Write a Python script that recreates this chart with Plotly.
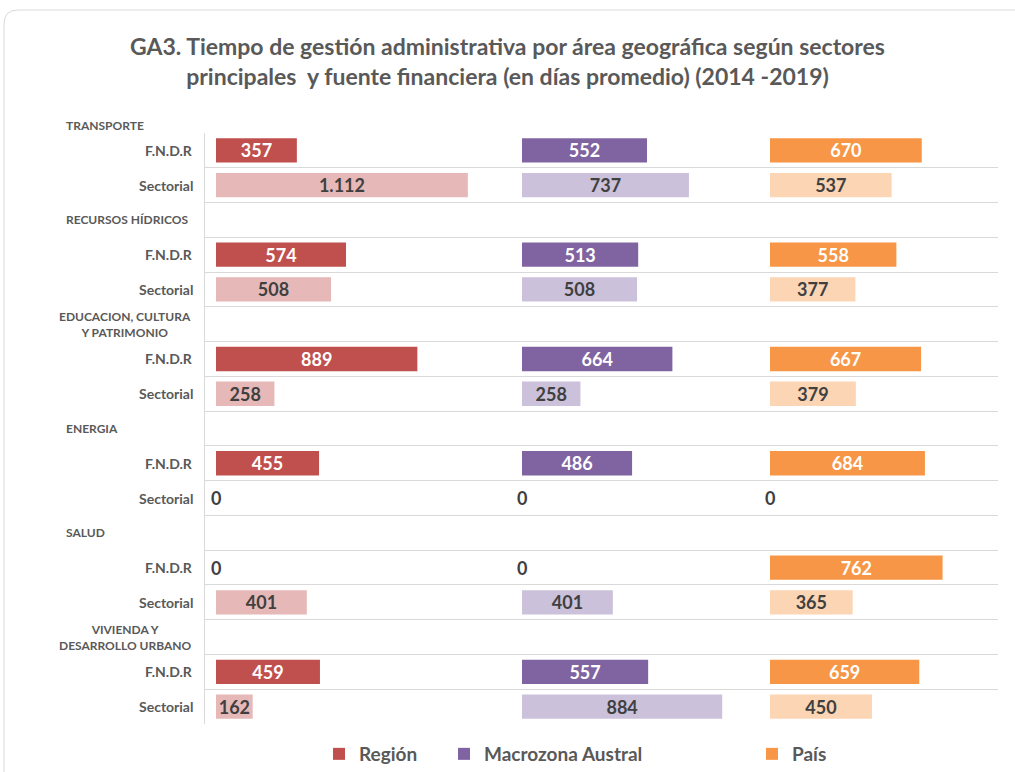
import plotly.graph_objects as go

# ---------------- data ----------------
sectors = ["TRANSPORTE", "RECURSOS HÍDRICOS", "EDUCACION, CULTURA<br>Y PATRIMONIO",
           "ENERGIA", "SALUD", "VIVIENDA Y<br>DESARROLLO URBANO"]
fuentes = ["F.N.D.R", "Sectorial"]
areas = ["Región", "Macrozona Austral", "País"]

region_fndr = [357, 574, 889, 455, 0, 459]
region_sect = [1112, 508, 258, 0, 401, 162]
macro_fndr = [552, 513, 664, 486, 0, 557]
macro_sect = [737, 508, 258, 0, 401, 884]
pais_fndr = [670, 558, 667, 684, 762, 659]
pais_sect = [537, 377, 379, 0, 365, 450]

dark_colors = ["#C0504D", "#8064A2", "#F79646"]
light_colors = ["#E6B9B8", "#CCC1DA", "#FCD5B5"]

# ---------------- layout geometry ----------------
W, H = 1015, 772
L, R, T, B = 205, 998, 133, 724
PW, PH = R - L, B - T
FONT = "Lato"
GRAY = "#595959"
DARKTXT = "#404040"

def pxx(px):
    return (px - L) / PW

def pxy(py):
    return (B - py) / PH

# rows: header of sector i at 3i-1, FNDR at 3i, Sectorial at 3i+1
fndr_rows = [3 * i for i in range(len(sectors))]
sect_rows = [3 * i + 1 for i in range(len(sectors))]
n_rows = 3 * len(sectors) - 1

# panel bar-start pixel positions and common scale (px per day)
scale = 0.2265
panel_starts = [216, 522, 770]
panel_edges = [L, 522, 770, R]
legend_marker_px = [335, 460, 768]

def fmt(v):
    return f"{v:,}".replace(",", ".")

fig = go.Figure()
annotations = []
series = [(region_fndr, region_sect), (macro_fndr, macro_sect), (pais_fndr, pais_sect)]
for k, (fv, sv) in enumerate(series):
    xa = "x" if k == 0 else f"x{k+1}"
    lg = "legend" if k == 0 else f"legend{k+1}"
    for vals, rows, col, txtcol, show in [
        (fv, fndr_rows, dark_colors[k], "white", True),
        (sv, sect_rows, light_colors[k], DARKTXT, False),
    ]:
        fig.add_trace(go.Bar(
            x=vals, y=rows, orientation="h",
            marker=dict(color=col, line=dict(width=0)), width=0.7,
            name=areas[k], showlegend=show, legend=lg,
            text=[fmt(v) if v else "" for v in vals],
            textposition="inside", insidetextanchor="middle", constraintext="none",
            textangle=0,
            textfont=dict(family=FONT, size=18, color=txtcol, weight="bold"),
            hoverinfo="skip", xaxis=xa, yaxis="y",
        ))
        # zero values: label drawn at the bar origin
        for v, r in zip(vals, rows):
            if v == 0:
                annotations.append(dict(
                    text=fmt(v), x=v, xref=xa, y=r, yref="y", xanchor="center",
                    yanchor="middle", showarrow=False,
                    font=dict(family=FONT, size=18, color=DARKTXT, weight="bold"),
                ))

layout_axes = {}
for k in range(3):
    key = "xaxis" if k == 0 else f"xaxis{k+1}"
    d0, d1 = pxx(panel_edges[k]), pxx(panel_edges[k + 1])
    x0 = -(panel_starts[k] - panel_edges[k]) / scale
    x1 = (panel_edges[k + 1] - panel_starts[k]) / scale
    ax = dict(domain=[d0, d1], range=[x0, x1], showticklabels=False, showgrid=False,
              zeroline=False, showline=False, fixedrange=True)
    if k > 0:
        ax["anchor"] = "y"
    layout_axes[key] = ax

legend_common = dict(orientation="h", xanchor="left", yanchor="middle",
                     font=dict(family=FONT, size=19, color=GRAY, weight="bold"),
                     itemclick=False, itemdoubleclick=False,
                     bgcolor="rgba(0,0,0,0)", borderwidth=0)
legends = {}
for k in range(3):
    key = "legend" if k == 0 else f"legend{k+1}"
    legends[key] = dict(legend_common, x=pxx(legend_marker_px[k] - 16), y=pxy(754))

fig.update_layout(**layout_axes)
fig.update_layout(**legends)
fig.update_layout(
    yaxis=dict(range=[n_rows - 0.5, -0.5], tickvals=[i + 0.5 for i in range(-1, n_rows)],
               showticklabels=False, showgrid=True, gridcolor="#D9D9D9", gridwidth=1,
               zeroline=False, showline=True, linecolor="#D9D9D9", linewidth=1,
               ticks="", anchor="x", fixedrange=True),
    barmode="overlay",
    width=W, height=H,
    margin=dict(l=L, r=W - R, t=T, b=H - B, pad=0, autoexpand=False),
    paper_bgcolor="white", plot_bgcolor="white",
    font=dict(family=FONT, color=GRAY),
    title=dict(
        text="GA3. Tiempo de gestión administrativa por área geográfica según sectores<br>"
             "principales  y fuente financiera (en días promedio) (2014 -2019)",
        x=0.5, xref="container", xanchor="center",
        y=1 - 55 / H, yref="container", yanchor="middle",
        font=dict(family=FONT, size=23, color=GRAY, weight="bold"),
    ),
    showlegend=True,
)

# sector headers (first one sits above the plot area)
for i, s in enumerate(sectors):
    multi = "<br>" in s
    ann = dict(text=s, x=pxx(57 if multi else 64), xref="paper", xanchor="left",
               yanchor="middle", align="center", showarrow=False,
               font=dict(family=FONT, size=12, color=GRAY, weight="bold"))
    if i == 0:
        ann.update(y=pxy(125), yref="paper")
    else:
        ann.update(y=3 * i - 1, yref="y")
    annotations.append(ann)
# fuente labels
for rows, f in [(fndr_rows, fuentes[0]), (sect_rows, fuentes[1])]:
    for r in rows:
        annotations.append(dict(
            text=f, x=pxx(195), xref="paper", y=r, yref="y", xanchor="right", yanchor="middle",
            showarrow=False, font=dict(family=FONT, size=14, color=GRAY, weight="bold"),
        ))
fig.update_layout(annotations=annotations)

# outer rounded border of the chart area
rr = 14
path = (f"M {pxx(4)} {pxy(790)} L {pxx(4)} {pxy(10 + rr)} "
        f"Q {pxx(4)} {pxy(10)} {pxx(4 + rr)} {pxy(10)} L {pxx(1030)} {pxy(10)}")
fig.add_shape(type="path", path=path, xref="paper", yref="paper",
              line=dict(color="#D9D9D9", width=1), layer="below")

fig.write_html("out.html", config={"displayModeBar": False},
               post_script="document.body.style.margin='0px';")
